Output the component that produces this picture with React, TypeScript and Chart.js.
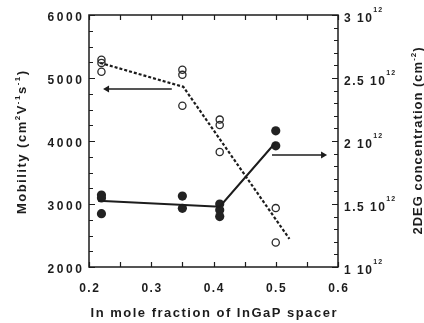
import { useEffect, useRef } from 'react';
import { Chart, registerables } from 'chart.js';

Chart.register(...registerables);

// ---- data ----
const mobilityX = [0.22, 0.22, 0.22, 0.35, 0.35, 0.35, 0.41, 0.41, 0.41, 0.5, 0.5];
const mobilityY = [5290, 5240, 5100, 5130, 5050, 4560, 4340, 4255, 3825, 2935, 2390];
const mobilityFitX = [0.218, 0.3515, 0.522];
const mobilityFitY = [5240, 4860, 2445];

const densityX = [0.22, 0.22, 0.22, 0.35, 0.35, 0.41, 0.41, 0.41, 0.5, 0.5];
const densityY = [1.571e12, 1.548e12, 1.423e12, 1.563e12, 1.466e12, 1.5e12, 1.452e12, 1.4e12, 2.081e12, 1.962e12];
const densityFitX = [0.215, 0.41, 0.5];
const densityFitY = [1.525e12, 1.479e12, 1.99e12];

const mobilityArrowX = [0.333, 0.229];
const mobilityArrowY = [4825, 4825];
const densityArrowX = [0.494, 0.576];
const densityArrowY = [1.889e12, 1.889e12];

const xTickValues = [0.2, 0.3, 0.4, 0.5, 0.6];
const xTickLabels = ['0.2', '0.3', '0.4', '0.5', '0.6'];
const mobilityTickValues = [2000, 3000, 4000, 5000, 6000];
const mobilityTickLabels = ['2000', '3000', '4000', '5000', '6000'];
const densityTickValues = [1e12, 1.5e12, 2e12, 2.5e12, 3e12];
const densityTickMantissas = ['1', '1.5', '2', '2.5', '3'];
const densityTickExponent = '12';

const xTitle = 'In mole fraction of InGaP spacer';
const leftTitleRuns = [
  { t: 'Mobility (cm' }, { t: '2', sup: true }, { t: 'V' }, { t: '-1', sup: true },
  { t: 's' }, { t: '-1', sup: true }, { t: ')' },
];
const rightTitleRuns = [{ t: '2DEG concentration (cm' }, { t: '-2', sup: true }, { t: ')' }];

const FONT = '"Liberation Sans", Arial, sans-serif';
const INK = '#1c1c1c';

type Run = { t: string; sup?: boolean };

function spacedWidth(ctx: CanvasRenderingContext2D, text: string, sp: number) {
  let w = 0;
  for (const ch of text) w += ctx.measureText(ch).width + sp;
  return w - sp;
}
function drawSpaced(ctx: CanvasRenderingContext2D, text: string, x: number, y: number, sp: number) {
  for (const ch of text) {
    ctx.fillText(ch, x, y);
    x += ctx.measureText(ch).width + sp;
  }
  return x - sp;
}
function drawRich(ctx: CanvasRenderingContext2D, runs: Run[], cx: number, by: number,
  mainFont: string, supFont: string, sp: number, rise: number) {
  let total = 0;
  runs.forEach((r, i) => {
    ctx.font = r.sup ? supFont : mainFont;
    total += spacedWidth(ctx, r.t, sp) + (i < runs.length - 1 ? sp : 0);
  });
  let x = cx - total / 2;
  runs.forEach((r) => {
    ctx.font = r.sup ? supFont : mainFont;
    x = drawSpaced(ctx, r.t, x, r.sup ? by - rise : by, sp) + sp;
  });
}

const decorPlugin = {
  id: 'decor',
  afterDraw(chart: any) {
    const { ctx, chartArea: a, scales } = chart;
    const xs = scales.x, ys = scales.y, y1 = scales.y1;
    ctx.save();
    ctx.strokeStyle = INK;
    ctx.fillStyle = INK;
    ctx.lineWidth = 1.5;
    ctx.strokeRect(a.left, a.top, a.right - a.left, a.bottom - a.top);

    ctx.lineWidth = 1.2;
    ctx.beginPath();
    // x ticks every 0.05 (bottom and top, inward)
    for (let i = 0; i <= 8; i++) {
      const px = Math.round(xs.getPixelForValue(0.2 + i * 0.05)) + 0.5;
      ctx.moveTo(px, a.bottom); ctx.lineTo(px, a.bottom - 5);
      ctx.moveTo(px, a.top); ctx.lineTo(px, a.top + 5);
    }
    // left ticks every 250
    for (let i = 0; i <= 16; i++) {
      const v = 2000 + i * 250;
      const py = Math.round(ys.getPixelForValue(v)) + 0.5;
      const len = i % 4 === 0 ? 6 : 4;
      ctx.moveTo(a.left, py); ctx.lineTo(a.left + len, py);
    }
    // right ticks every 0.1e12
    for (let i = 0; i <= 20; i++) {
      const v = 1e12 + i * 1e11;
      const py = Math.round(y1.getPixelForValue(v)) + 0.5;
      const len = i % 5 === 0 ? 6 : 4;
      ctx.moveTo(a.right, py); ctx.lineTo(a.right - len, py);
    }
    ctx.stroke();

    // tick labels
    ctx.textBaseline = 'alphabetic';
    ctx.textAlign = 'left';
    ctx.font = `bold 12px ${FONT}`;
    xTickValues.forEach((v, i) => {
      const w = spacedWidth(ctx, xTickLabels[i], 1.5);
      drawSpaced(ctx, xTickLabels[i], xs.getPixelForValue(v) - w / 2, 291.5, 1.5);
    });
    mobilityTickValues.forEach((v, i) => {
      const w = spacedWidth(ctx, mobilityTickLabels[i], 2.6);
      drawSpaced(ctx, mobilityTickLabels[i], a.left - 7 - w, ys.getPixelForValue(v) + 6, 2.6);
    });
    densityTickValues.forEach((v, i) => {
      const py = y1.getPixelForValue(v) + 7;
      ctx.font = `bold 12px ${FONT}`;
      let x = drawSpaced(ctx, densityTickMantissas[i] + ' 10', a.right + 6, py, 1.5);
      ctx.font = `bold 7px ${FONT}`;
      drawSpaced(ctx, densityTickExponent, x + 1.5, py - 10, 1);
    });

    // x title
    ctx.font = `bold 13px ${FONT}`;
    const tw = spacedWidth(ctx, xTitle, 1.5);
    drawSpaced(ctx, xTitle, (a.left + a.right) / 2 - tw / 2, 316.5, 1.5);

    // left title
    ctx.save();
    ctx.translate(26, 142.5);
    ctx.rotate(-Math.PI / 2);
    drawRich(ctx, leftTitleRuns, 0, 0, `bold 13px ${FONT}`, `bold 8px ${FONT}`, 1.5, 6);
    ctx.restore();

    // right title
    ctx.save();
    ctx.translate(422, 141);
    ctx.rotate(-Math.PI / 2);
    drawRich(ctx, rightTitleRuns, 0, 0, `bold 13px ${FONT}`, `bold 8px ${FONT}`, 1, 6);
    ctx.restore();

    ctx.restore();
  },
};

const pts = (xs: number[], ys: number[]) => xs.map((x, i) => ({ x, y: ys[i] }));

export default function App() {
  const ref = useRef<HTMLCanvasElement | null>(null);
  useEffect(() => {
    if (!ref.current) return;
    const chart = new Chart(ref.current, {
      type: 'scatter',
      data: {
        datasets: [
          {
            data: pts(mobilityFitX, mobilityFitY), yAxisID: 'y', showLine: true,
            borderColor: INK, borderWidth: 2.2, borderDash: [3, 2], pointRadius: 0,
          },
          {
            data: pts(densityFitX, densityFitY), yAxisID: 'y1', showLine: true,
            borderColor: INK, borderWidth: 2, pointRadius: 0,
          },
          {
            data: pts(mobilityX, mobilityY), yAxisID: 'y', pointStyle: 'circle',
            pointRadius: 3.6, borderWidth: 1.3, borderColor: '#2a2a2a', backgroundColor: 'rgba(0,0,0,0)',
          },
          {
            data: pts(densityX, densityY), yAxisID: 'y1', pointStyle: 'circle',
            pointRadius: 4.6, borderWidth: 0, borderColor: '#222', backgroundColor: '#222',
          },
          {
            data: pts(mobilityArrowX, mobilityArrowY), yAxisID: 'y', showLine: true,
            borderColor: INK, borderWidth: 1.6, backgroundColor: INK,
            pointStyle: 'triangle', pointRadius: [0, 4], pointRotation: [0, -90], pointBorderWidth: 0,
          },
          {
            data: pts(densityArrowX, densityArrowY), yAxisID: 'y1', showLine: true,
            borderColor: INK, borderWidth: 1.6, backgroundColor: INK,
            pointStyle: 'triangle', pointRadius: [0, 4], pointRotation: [0, 90], pointBorderWidth: 0,
          },
        ] as any,
      },
      options: {
        animation: false,
        responsive: false,
        devicePixelRatio: 1,
        events: [],
        layout: { padding: { top: 15, left: 0, right: 0, bottom: 0 } },
        plugins: { legend: { display: false }, tooltip: { enabled: false } },
        scales: {
          x: {
            type: 'linear', min: 0.2, max: 0.6,
            ticks: { display: false }, grid: { display: false }, border: { display: false },
            afterFit: (s: any) => { s.height = 56; },
          },
          y: {
            type: 'linear', position: 'left', min: 2000, max: 6000,
            ticks: { display: false }, grid: { display: false }, border: { display: false },
            afterFit: (s: any) => { s.width = 89; },
          },
          y1: {
            type: 'linear', position: 'right', min: 1e12, max: 3e12,
            ticks: { display: false }, grid: { display: false }, border: { display: false },
            afterFit: (s: any) => { s.width = 86; },
          },
        } as any,
      },
      plugins: [decorPlugin],
    });
    return () => chart.destroy();
  }, []);
  return (
    <div style={{ position: 'fixed', left: 0, top: 0, width: 424, height: 323, background: '#fff' }}>
      <canvas ref={ref} width={424} height={323} style={{ display: 'block' }} />
    </div>
  );
}
